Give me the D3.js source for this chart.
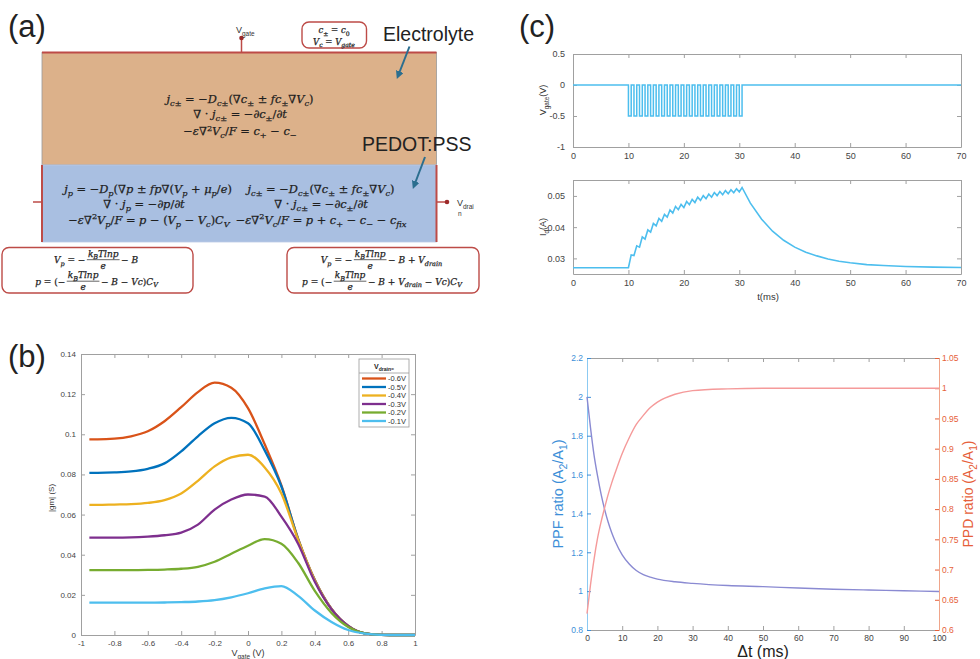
<!DOCTYPE html>
<html>
<head>
<meta charset="utf-8">
<script src="https://cdn.jsdelivr.net/npm/d3@7/dist/d3.min.js"></script>
<style>
body { margin: 0; background: #fff; }
svg { display: block; font-family: "Liberation Sans", Arial, sans-serif; }
</style>
</head>
<body>
<script>
// ---------- data ----------
// (b) |gm| vs Vgate for several drain voltages
const vgate = [-0.95,-0.9,-0.8,-0.7,-0.6,-0.5,-0.4,-0.3,-0.2,-0.1,0,0.1,0.2,0.3,0.4,0.5,0.6,0.7,0.8,0.9,1];
const gm06 = [0.0975,0.0975,0.0978,0.0990,0.1015,0.1065,0.1135,0.1210,0.1257,0.1232,0.1130,0.0950,0.0745,0.0480,0.0275,0.0130,0.0045,0.0008,0.0001,0,0];
const gm05 = [0.0808,0.0808,0.0810,0.0815,0.0828,0.0855,0.0915,0.0990,0.1055,0.1082,0.1055,0.0920,0.0740,0.0478,0.0273,0.0130,0.0045,0.0008,0.0001,0,0];
const gm04 = [0.0648,0.0648,0.0650,0.0652,0.0658,0.0672,0.0705,0.0768,0.0840,0.0885,0.0898,0.0835,0.0705,0.0475,0.0272,0.0130,0.0045,0.0008,0.0001,0,0];
const gm03 = [0.0485,0.0485,0.0485,0.0486,0.0490,0.0497,0.0510,0.0550,0.0625,0.0675,0.0700,0.0690,0.0590,0.0455,0.0265,0.0128,0.0045,0.0008,0.0001,0,0];
const gm02 = [0.0323,0.0323,0.0323,0.0323,0.0324,0.0326,0.0330,0.0340,0.0365,0.0405,0.0445,0.0478,0.0455,0.0360,0.0220,0.0110,0.0040,0.0008,0.0001,0,0];
const gm01 = [0.0161,0.0161,0.0161,0.0161,0.0161,0.0162,0.0164,0.0167,0.0174,0.0188,0.0208,0.0232,0.0244,0.0195,0.0122,0.0065,0.0025,0.0007,0.0001,0,0];
const drainLabels = ['-0.6V','-0.5V','-0.4V','-0.3V','-0.2V','-0.1V'];
const drainColors = ['#d95319','#0072bd','#edb120','#7e2f8e','#77ac30','#4dbeee'];
const bXTicks = [-1,-0.8,-0.6,-0.4,-0.2,0,0.2,0.4,0.6,0.8,1];
const bYTicks = [0,0.02,0.04,0.06,0.08,0.1,0.12,0.14];

// (c) gate pulse train and drain current
const pulseStarts = [10,11,12,13,14,15,16,17,18,19,20,21,22,23,24,25,26,27,28,29,30];
const pulseWidth = 0.5;
const pulseLow = -0.5;
const idBase = 0.027;
const idPeaks = [0.0311,0.0340,0.0369,0.0391,0.0412,0.0428,0.0441,0.0455,0.0466,0.0473,0.0482,0.0489,0.0496,0.0501,0.0506,0.0511,0.0514,0.0517,0.0520,0.0523,0.0527];
const idTroughs = [0.0309,0.0336,0.0362,0.0384,0.0404,0.0419,0.0432,0.0445,0.0456,0.0463,0.0472,0.0479,0.0486,0.0491,0.0496,0.0501,0.0504,0.0507,0.0510,0.0513];
const decayT = [32,34,36,38,40,42,44,46,48,50,53,56,60,65,70];
const decayI = [0.0477,0.0426,0.0387,0.0358,0.0336,0.0320,0.0308,0.0298,0.0291,0.0286,0.0280,0.0277,0.0274,0.0272,0.0271];
const tTicks = [0,10,20,30,40,50,60,70];
const vgTicks = [-1,-0.5,0,0.5];
const idTicks = [0.03,0.04,0.05];

// (c) PPF / PPD
const dt  = [0,1,2,3,4,5,6,7,8,10,12,14,16,18,20,25,30,40,50,60,70,80,90,100];
const ppf = [2.0,1.84,1.70,1.593,1.499,1.421,1.356,1.302,1.257,1.187,1.14,1.106,1.085,1.072,1.062,1.048,1.04,1.029,1.023,1.016,1.01,1.006,1.002,0.998];
const ppd = [0.627,0.675,0.717,0.752,0.779,0.802,0.824,0.843,0.86,0.892,0.918,0.94,0.955,0.968,0.977,0.99,0.996,0.999,1.0,1.0,1.0,1.0,1.0,1.0];
const dtTicks = [0,10,20,30,40,50,60,70,80,90,100];
const ppfTicks = [0.8,1,1.2,1.4,1.6,1.8,2,2.2];
const ppdTicks = [0.6,0.65,0.7,0.75,0.8,0.85,0.9,0.95,1,1.05];

// ---------- helpers ----------
const svg = d3.select('body').append('svg')
    .attr('width', 980)
    .attr('height', 659);

// text with italic / sub / sup pieces
function rich(sel, parts, size) {
    let off = 0;
    parts.forEach(([s, k]) => {
        const small = k[0] === '_' || k[0] === '^';
        const target = k[0] === '_' ? size * 0.3 : k[0] === '^' ? -size * 0.38 : 0;
        sel.append('tspan')
            .attr('dy', target - off)
            .style('font-size', (small ? size * 0.72 : size) + 'px')
            .style('font-style', (k === 'i' || k === '_i') ? 'italic' : 'normal')
            .text(s);
        off = target;
    });
    return sel;
}

function label(g, x, y, parts, size, opts = {}) {
    const t = g.append('text')
        .attr('x', x).attr('y', y)
        .attr('text-anchor', opts.anchor || 'middle')
        .attr('fill', opts.fill || '#222')
        .style('font-family', opts.font || '"Liberation Sans", Arial, sans-serif');
    if (opts.stroke) t.attr('stroke', opts.fill).attr('stroke-width', opts.stroke);
    if (opts.rotate) t.attr('transform', `rotate(-90,${x},${y})`);
    return rich(t, parts, size);
}

// MATLAB-like boxed axes with inward ticks
function boxAxes(g, x, y, xTicks, yTicks, o) {
    const [x0, x1] = x.range();
    const [y0, y1] = y.range();
    const fmt = d => d;
    g.append('g').attr('class', 'ax')
        .attr('transform', `translate(0,${y0})`)
        .call(d3.axisBottom(x).tickValues(xTicks).tickSizeInner(-4).tickSizeOuter(0).tickPadding(o.padX).tickFormat(fmt));
    g.append('g').attr('class', 'ax')
        .attr('transform', `translate(0,${y1})`)
        .call(d3.axisTop(x).tickValues(xTicks).tickSizeInner(-4).tickSizeOuter(0).tickFormat(''));
    g.append('g').attr('class', 'ax')
        .attr('transform', `translate(${x0},0)`)
        .call(d3.axisLeft(y).tickValues(yTicks).tickSizeInner(-4).tickSizeOuter(0).tickPadding(o.padY).tickFormat(fmt));
    g.append('g').attr('class', 'ax')
        .attr('transform', `translate(${x1},0)`)
        .call(d3.axisRight(y).tickValues(yTicks).tickSizeInner(-4).tickSizeOuter(0).tickFormat(''));
    g.selectAll('.ax .domain').attr('stroke', '#a0a0a0');
    g.selectAll('.ax .tick line').attr('stroke', '#a0a0a0');
    g.selectAll('.ax .tick text')
        .attr('fill', '#444')
        .style('font-size', o.fs + 'px')
        .style('font-family', '"Liberation Sans", Arial, sans-serif');
}

// ---------- panel (a) ----------
const a = svg.append('g');
const math = '"DejaVu Serif", "Liberation Serif", serif';
const red = '#bd4b47';

a.append('text').attr('x', 8).attr('y', 37).style('font-size', '31px').attr('fill', '#222').text('(a)');

a.append('rect').attr('x', 42).attr('y', 52.5).attr('width', 394.5).attr('height', 112.5)
    .attr('fill', '#dcb18a').attr('stroke', '#9a9a9a').attr('stroke-width', 0.8);
a.append('rect').attr('x', 42).attr('y', 165).attr('width', 394.5).attr('height', 77)
    .attr('fill', '#a9bfe1').attr('stroke', '#bccbe5').attr('stroke-width', 0.8);
a.append('line').attr('x1', 42).attr('x2', 436.5).attr('y1', 52.5).attr('y2', 52.5).attr('stroke', red).attr('stroke-width', 2);
[42, 436.5].forEach(xx => a.append('line').attr('x1', xx).attr('x2', xx).attr('y1', 165).attr('y2', 242).attr('stroke', red).attr('stroke-width', 2));
// gate pin
a.append('line').attr('x1', 241.5).attr('x2', 241.5).attr('y1', 38).attr('y2', 52).attr('stroke', red).attr('stroke-width', 1.5);
a.append('circle').attr('cx', 241.5).attr('cy', 38).attr('r', 2.3).attr('fill', '#9c2a2a');
label(a, 236, 33, [['V', 'n'], ['gate', '_']], 9, { anchor: 'start', fill: '#333' });
// drain pins
a.append('line').attr('x1', 33).attr('x2', 42).attr('y1', 202).attr('y2', 202).attr('stroke', red).attr('stroke-width', 1.5);
a.append('line').attr('x1', 436.5).attr('x2', 447).attr('y1', 202).attr('y2', 202).attr('stroke', red).attr('stroke-width', 1.5);
a.append('circle').attr('cx', 447).attr('cy', 202).attr('r', 2.3).attr('fill', '#9c2a2a');
label(a, 457, 206, [['V', 'n'], ['drai', '_']], 9, { anchor: 'start', fill: '#333' });
a.append('text').attr('x', 458).attr('y', 216).style('font-size', '6.5px').attr('fill', '#333').text('n');

// boundary condition boxes
const bcBox = (x, y, w, h) => a.append('rect').attr('x', x).attr('y', y).attr('width', w).attr('height', h)
    .attr('rx', 7).attr('fill', '#fff').attr('stroke', red).attr('stroke-width', 1.4);
bcBox(302, 22, 64.5, 26);
bcBox(2, 247.5, 191, 45.5);
bcBox(287, 247.5, 192, 45.5);

const eqOpt = { font: math, fill: '#1e1e1e', stroke: 0.25 };
label(a, 334, 33, [['c', 'i'], ['±', '_'], [' = ', 'n'], ['c', 'i'], ['0', '_']], 8.5, eqOpt);
label(a, 334, 44.5, [['V', 'i'], ['c', '_i'], [' = ', 'n'], ['V', 'i'], ['gate', '_i']], 8.5, eqOpt);

a.append('text').attr('x', 383).attr('y', 41).style('font-size', '19.5px').attr('fill', '#222').text('Electrolyte');
a.append('text').attr('x', 362).attr('y', 151).style('font-size', '19.5px').attr('fill', '#222').text('PEDOT:PSS');

// arrows
const defs = svg.append('defs');
defs.append('marker').attr('id', 'ah').attr('viewBox', '0 0 10 10').attr('refX', 6).attr('refY', 5)
    .attr('markerWidth', 4).attr('markerHeight', 4).attr('orient', 'auto')
    .append('path').attr('d', 'M0,0 L10,5 L0,10 z').attr('fill', '#2b6e8f');
[[409.5, 46.5, 398, 76], [425, 157, 414, 186]].forEach(([x1, y1, x2, y2]) => {
    a.append('line').attr('x1', x1).attr('y1', y1).attr('x2', x2).attr('y2', y2)
        .attr('stroke', '#2b6e8f').attr('stroke-width', 2).attr('marker-end', 'url(#ah)');
});

// equations
const eqJc = [['j', 'i'], ['c±', '_i'], [' = −', 'n'], ['D', 'i'], ['c±', '_i'], ['(∇', 'n'], ['c', 'i'], ['±', '_'], [' ± ', 'n'], ['fc', 'i'], ['±', '_'], ['∇', 'n'], ['V', 'i'], ['c', '_i'], [')', 'n']];
const eqDc = [['∇ · ', 'n'], ['j', 'i'], ['c±', '_i'], [' = −∂', 'n'], ['c', 'i'], ['±', '_'], ['/∂', 'n'], ['t', 'i']];
const eqPc = [['−', 'n'], ['ε', 'i'], ['∇', 'n'], ['2', '^'], ['V', 'i'], ['c', '_i'], ['/', 'n'], ['F', 'i'], [' = ', 'n'], ['c', 'i'], ['+', '_'], [' − ', 'n'], ['c', 'i'], ['−', '_']];
const eqJp = [['j', 'i'], ['p', '_i'], [' = −', 'n'], ['D', 'i'], ['p', '_i'], ['(∇', 'n'], ['p', 'i'], [' ± ', 'n'], ['fp', 'i'], ['∇(', 'n'], ['V', 'i'], ['p', '_i'], [' + ', 'n'], ['μ', 'i'], ['p', '_i'], ['/', 'n'], ['e', 'i'], [')', 'n']];
const eqDp = [['∇ · ', 'n'], ['j', 'i'], ['p', '_i'], [' = −∂', 'n'], ['p', 'i'], ['/∂', 'n'], ['t', 'i']];
const eqPp = [['−', 'n'], ['ε', 'i'], ['∇', 'n'], ['2', '^'], ['V', 'i'], ['p', '_i'], ['/', 'n'], ['F', 'i'], [' = ', 'n'], ['p', 'i'], [' − (', 'n'], ['V', 'i'], ['p', '_i'], [' − ', 'n'], ['V', 'i'], ['c', '_i'], [')', 'n'], ['C', 'i'], ['V', '_i']];
const eqPc2 = [['−', 'n'], ['ε', 'i'], ['∇', 'n'], ['2', '^'], ['V', 'i'], ['c', '_i'], ['/', 'n'], ['F', 'i'], [' = ', 'n'], ['p', 'i'], [' + ', 'n'], ['c', 'i'], ['+', '_'], [' − ', 'n'], ['c', 'i'], ['−', '_'], [' − ', 'n'], ['c', 'i'], ['fix', '_i']];

// size the math font so the first flux equation is as wide as in the figure
const probe = label(a, 0, -50, eqJc, 12, { font: math });
const eqSize = 12 * 147 / probe.node().getComputedTextLength();
probe.remove();

label(a, 240, 103, eqJc, eqSize, eqOpt);
label(a, 240, 118, eqDc, eqSize, eqOpt);
label(a, 240, 135, eqPc, eqSize, eqOpt);
label(a, 148, 192.5, eqJp, eqSize, eqOpt);
label(a, 144, 207.5, eqDp, eqSize, eqOpt);
label(a, 149, 223.5, eqPp, eqSize, eqOpt);
label(a, 321, 192.5, eqJc, eqSize, eqOpt);
label(a, 321, 207.5, eqDc, eqSize, eqOpt);
label(a, 321, 223.5, eqPc2, eqSize, eqOpt);

// boundary formulas: left part, fraction kBTlnp / e, right part, centred on xc
const fs = 9;
const startOpt = Object.assign({ anchor: 'start' }, eqOpt);
function fracLine(xc, y, leftParts, rightParts) {
    const L = label(a, 0, y, leftParts, fs, startOpt);
    const N = label(a, 0, y - 6.5, [['k', 'i'], ['B', '_i'], ['Tlnp', 'i']], fs, startOpt);
    const R = label(a, 0, y, rightParts, fs, startOpt);
    const wl = L.node().getComputedTextLength();
    const wn = N.node().getComputedTextLength();
    const wr = R.node().getComputedTextLength();
    const gap = 2.5;
    const x0 = xc - (wl + wn + wr + 2 * gap) / 2;
    const fx = x0 + wl + gap;
    L.attr('x', x0);
    N.attr('x', fx);
    R.attr('x', fx + wn + gap);
    a.append('line').attr('x1', fx - 1).attr('x2', fx + wn + 1).attr('y1', y - 3.3).attr('y2', y - 3.3)
        .attr('stroke', '#222').attr('stroke-width', 0.7);
    label(a, fx + wn / 2, y + 5.5, [['e', 'i']], fs, eqOpt);
}
fracLine(96, 263, [['V', 'i'], ['p', '_i'], [' = −', 'n']], [['− ', 'n'], ['B', 'i']]);
fracLine(96.5, 284.5, [['p', 'i'], [' = (−', 'n']], [['− ', 'n'], ['B', 'i'], [' − ', 'n'], ['Vc', 'i'], [')', 'n'], ['C', 'i'], ['V', '_i']]);
fracLine(381.5, 263, [['V', 'i'], ['p', '_i'], [' = −', 'n']], [['− ', 'n'], ['B', 'i'], [' + ', 'n'], ['V', 'i'], ['drain', '_i']]);
fracLine(382, 284.5, [['p', 'i'], [' = (−', 'n']], [['− ', 'n'], ['B', 'i'], [' + ', 'n'], ['V', 'i'], ['drain', '_i'], [' − ', 'n'], ['Vc', 'i'], [')', 'n'], ['C', 'i'], ['V', '_i']]);

// ---------- panel (b) ----------
const b = svg.append('g');
b.append('text').attr('x', 8).attr('y', 367).style('font-size', '31px').attr('fill', '#222').text('(b)');

const bx = d3.scaleLinear().domain([-1, 1]).range([81, 415]);
const by = d3.scaleLinear().domain([0, 0.14]).range([635, 354]);
boxAxes(b, bx, by, bXTicks, bYTicks, { padX: 5, padY: 5, fs: 8 });

const gmSeries = [gm06, gm05, gm04, gm03, gm02, gm01];
const bLine = d3.line().x(d => bx(d[0])).y(d => by(d[1])).curve(d3.curveMonotoneX);
gmSeries.forEach((s, i) => {
    b.append('path')
        .datum(vgate.map((v, j) => [v, s[j]]))
        .attr('fill', 'none')
        .attr('stroke', drainColors[i])
        .attr('stroke-width', 2.3)
        .attr('d', bLine);
});

label(b, 54, 498, [['|gm| (S)', 'n']], 8, { rotate: true, fill: '#333' });
label(b, 248, 656, [['V', 'n'], ['gate', '_'], ['  (V)', 'n']], 9, { fill: '#333' });

// legend
const lg = b.append('g');
lg.append('rect').attr('x', 359).attr('y', 359).attr('width', 50).attr('height', 68)
    .attr('fill', '#fff').attr('stroke', '#999').attr('stroke-width', 0.8);
lg.append('line').attr('x1', 359).attr('x2', 409).attr('y1', 373).attr('y2', 373).attr('stroke', '#999').attr('stroke-width', 0.8);
label(lg, 384, 369, [['V', 'n'], ['drain', '_'], ['=', '_']], 7, { fill: '#222' }).style('font-weight', 'bold');
drainLabels.forEach((d, i) => {
    const yy = 378.5 + i * 8.5;
    lg.append('line').attr('x1', 362).attr('x2', 386).attr('y1', yy).attr('y2', yy)
        .attr('stroke', drainColors[i]).attr('stroke-width', 2.3);
    lg.append('text').attr('x', 388).attr('y', yy + 2.6).style('font-size', '7.5px').attr('fill', '#333').text(d);
});

// ---------- panel (c) ----------
const c = svg.append('g');
c.append('text').attr('x', 519).attr('y', 37).style('font-size', '31px').attr('fill', '#222').text('(c)');

const cx = d3.scaleLinear().domain([0, 70]).range([573, 961]);
const cyV = d3.scaleLinear().domain([-1, 0.5]).range([147, 54]);
const cyI = d3.scaleLinear().domain([0.025, 0.0551]).range([274, 180]);

const c1 = c.append('g');
boxAxes(c1, cx, cyV, tTicks, vgTicks, { padX: 6, padY: 8, fs: 9 });
const vPts = [[0, 0]];
pulseStarts.forEach(t => {
    vPts.push([t, 0], [t, pulseLow], [t + pulseWidth, pulseLow], [t + pulseWidth, 0]);
});
vPts.push([70, 0]);
c1.append('path').datum(vPts)
    .attr('fill', 'none').attr('stroke', '#4dbeee').attr('stroke-width', 1.5)
    .attr('d', d3.line().x(d => cx(d[0])).y(d => cyV(d[1])));
label(c1, 546, 100, [['V', 'n'], ['gate', '_'], ['(V)', 'n']], 9, { rotate: true, fill: '#333' });

const c2 = c.append('g');
boxAxes(c2, cx, cyI, tTicks, idTicks, { padX: 6, padY: 8, fs: 9 });
const iPts = [[0, idBase], [pulseStarts[0], idBase]];
pulseStarts.forEach((t, k) => {
    iPts.push([t + pulseWidth, idPeaks[k]]);
    if (k < idTroughs.length) iPts.push([pulseStarts[k + 1], idTroughs[k]]);
});
decayT.forEach((t, i) => iPts.push([t, decayI[i]]));
c2.append('path').datum(iPts)
    .attr('fill', 'none').attr('stroke', '#4dbeee').attr('stroke-width', 1.6)
    .attr('d', d3.line().x(d => cx(d[0])).y(d => cyI(d[1])));
label(c2, 546, 227, [['I', 'n'], ['d', '_'], ['(A)', 'n']], 9, { rotate: true, fill: '#333' });
label(c2, 768, 300, [['t(ms)', 'n']], 9.5, { fill: '#333' });

// PPF / PPD
const c3 = c.append('g');
const px = d3.scaleLinear().domain([0, 100]).range([587, 939]);
const pyL = d3.scaleLinear().domain([0.8, 2.2]).range([630, 358]);
const pyR = d3.scaleLinear().domain([0.6, 1.05]).range([630, 358]);
const blue = '#3d8fd8', orange = '#e6603a';

c3.append('g').attr('class', 'ax').attr('transform', 'translate(0,630)')
    .call(d3.axisBottom(px).tickValues(dtTicks).tickSizeInner(-4).tickSizeOuter(0).tickPadding(5).tickFormat(d => d));
c3.append('g').attr('class', 'ax').attr('transform', 'translate(0,358)')
    .call(d3.axisTop(px).tickValues(dtTicks).tickSizeInner(-4).tickSizeOuter(0).tickFormat(''));
c3.selectAll('.ax .domain').attr('stroke', '#a0a0a0');
c3.selectAll('.ax .tick line').attr('stroke', '#a0a0a0');
c3.selectAll('.ax .tick text').attr('fill', '#444').style('font-size', '8.5px');

const axL = c3.append('g').attr('transform', 'translate(587,0)')
    .call(d3.axisLeft(pyL).tickValues(ppfTicks).tickSizeInner(-4).tickSizeOuter(0).tickPadding(4).tickFormat(d => d));
axL.select('.domain').attr('stroke', '#8ccaf2');
axL.selectAll('.tick line').attr('stroke', blue);
axL.selectAll('.tick text').attr('fill', blue).style('font-size', '8.5px');
const axR = c3.append('g').attr('transform', 'translate(939,0)')
    .call(d3.axisRight(pyR).tickValues(ppdTicks).tickSizeInner(-4).tickSizeOuter(0).tickPadding(3).tickFormat(d => d));
axR.select('.domain').attr('stroke', '#f0a58a');
axR.selectAll('.tick line').attr('stroke', orange);
axR.selectAll('.tick text').attr('fill', orange).style('font-size', '8.5px');

c3.append('path').datum(dt.map((d, i) => [d, ppf[i]]))
    .attr('fill', 'none').attr('stroke', '#8a8ad2').attr('stroke-width', 1.4)
    .attr('d', d3.line().x(d => px(d[0])).y(d => pyL(d[1])).curve(d3.curveMonotoneX));
c3.append('path').datum(dt.map((d, i) => [d, ppd[i]]))
    .attr('fill', 'none').attr('stroke', '#f59a9a').attr('stroke-width', 1.4)
    .attr('d', d3.line().x(d => px(d[0])).y(d => pyR(d[1])).curve(d3.curveMonotoneX));

label(c3, 563, 494, [['PPF ratio (A', 'n'], ['2', '_'], ['/A', 'n'], ['1', '_'], [')', 'n']], 14.5, { rotate: true, fill: blue });
label(c3, 973, 494, [['PPD ratio (A', 'n'], ['2', '_'], ['/A', 'n'], ['1', '_'], [')', 'n']], 14, { rotate: true, fill: orange });
label(c3, 763, 657, [['Δt (ms)', 'n']], 16, { fill: '#222' });
</script>
</body>
</html>
